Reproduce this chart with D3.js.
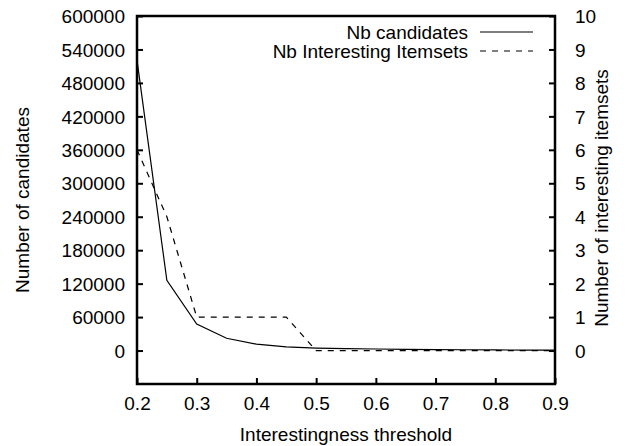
<!DOCTYPE html>
<html><head><meta charset="utf-8">
<script src="https://cdn.jsdelivr.net/npm/d3@7"></script>
<style>
body{margin:0;background:#fff;}
svg text{font-family:"Liberation Sans",Arial,sans-serif;font-size:19px;fill:#000;}
</style></head>
<body><svg id="c" width="634" height="446"></svg>
<script>
const thresholds = [0.2,0.25,0.3,0.35,0.4,0.45,0.5,0.55,0.6,0.65,0.7,0.75,0.8,0.85,0.9];
const candidates = [521000,126000,47500,22000,11500,6500,4500,3500,2800,2200,1800,1400,1100,900,700];
const interesting = [6,4,1,1,1,1,0,0,0,0,0,0,0,0,0];
const xTicks = [0.2,0.3,0.4,0.5,0.6,0.7,0.8,0.9];
const yLeftTicks = [0,60000,120000,180000,240000,300000,360000,420000,480000,540000,600000];
const yRightTicks = [0,1,2,3,4,5,6,7,8,9,10];
const seriesNames = ["Nb candidates","Nb Interesting Itemsets"];

const svg = d3.select("#c");
const L=137, R=555, T=16, B=384;
const x = d3.scaleLinear().domain([0.2,0.9]).range([L,R]);
const yL = d3.scaleLinear().domain([-60000,600000]).range([B,T]);
const yR = d3.scaleLinear().domain([-1,10]).range([B,T]);

// axes
const gl = svg.append("g").attr("transform",`translate(${L},0)`)
  .call(d3.axisLeft(yL).tickValues(yLeftTicks).tickSize(-6).tickPadding(12).tickFormat(d3.format("d")));
const gr = svg.append("g").attr("transform",`translate(${R},0)`)
  .call(d3.axisRight(yR).tickValues(yRightTicks).tickSize(-6).tickPadding(20).tickFormat(d3.format("d")));
const gb = svg.append("g").attr("transform",`translate(0,${B})`)
  .call(d3.axisBottom(x).tickValues(xTicks).tickSize(-6).tickPadding(13).tickFormat(d3.format(".1f")));
[gl,gr,gb].forEach(g=>{
  g.select(".domain").remove();
  g.selectAll(".tick line").attr("stroke","#000").attr("stroke-width",2);
  g.selectAll("text").style("font-size","19px").style("font-family",'"Liberation Sans",Arial,sans-serif');
});
gl.selectAll(".tick text").attr("dy","0.35em");
gr.selectAll(".tick text").attr("dy","0.35em");
gb.selectAll(".tick text").attr("dy","0.71em");

// lines
const lineC = d3.line().x((d,i)=>x(thresholds[i])).y(d=>yL(d));
const lineI = d3.line().x((d,i)=>x(thresholds[i])).y(d=>yR(d));
svg.append("path").datum(candidates).attr("d",lineC).attr("fill","none").attr("stroke","#000").attr("stroke-width",1.2);
svg.append("path").datum(interesting).attr("d",lineI).attr("fill","none").attr("stroke","#000").attr("stroke-width",1.2).attr("stroke-dasharray","6,6");

// frame
svg.append("rect").attr("x",L).attr("y",T).attr("width",R-L).attr("height",B-T)
  .attr("fill","none").attr("stroke","#000").attr("stroke-width",2.5);

// legend
const legY=[32,51];
seriesNames.forEach((n,i)=>{
  svg.append("text").attr("x",468).attr("y",legY[i]).attr("dy","0.35em").attr("text-anchor","end").text(n);
  svg.append("line").attr("x1",480).attr("x2",533).attr("y1",legY[i]).attr("y2",legY[i])
    .attr("stroke","#000").attr("stroke-width",1.2).attr("stroke-dasharray",i?"6,6":null);
});

// titles
svg.append("text").attr("x",(L+R)/2).attr("y",434).attr("dy","0.35em").attr("text-anchor","middle").text("Interestingness threshold");
svg.append("text").attr("transform",`translate(22,${(T+B)/2}) rotate(-90)`).attr("dy","0.35em").attr("text-anchor","middle").text("Number of candidates");
svg.append("text").attr("transform",`translate(601,198) rotate(-90)`).attr("dy","0.35em").attr("text-anchor","middle").text("Number of interesting itemsets");
</script></body></html>
